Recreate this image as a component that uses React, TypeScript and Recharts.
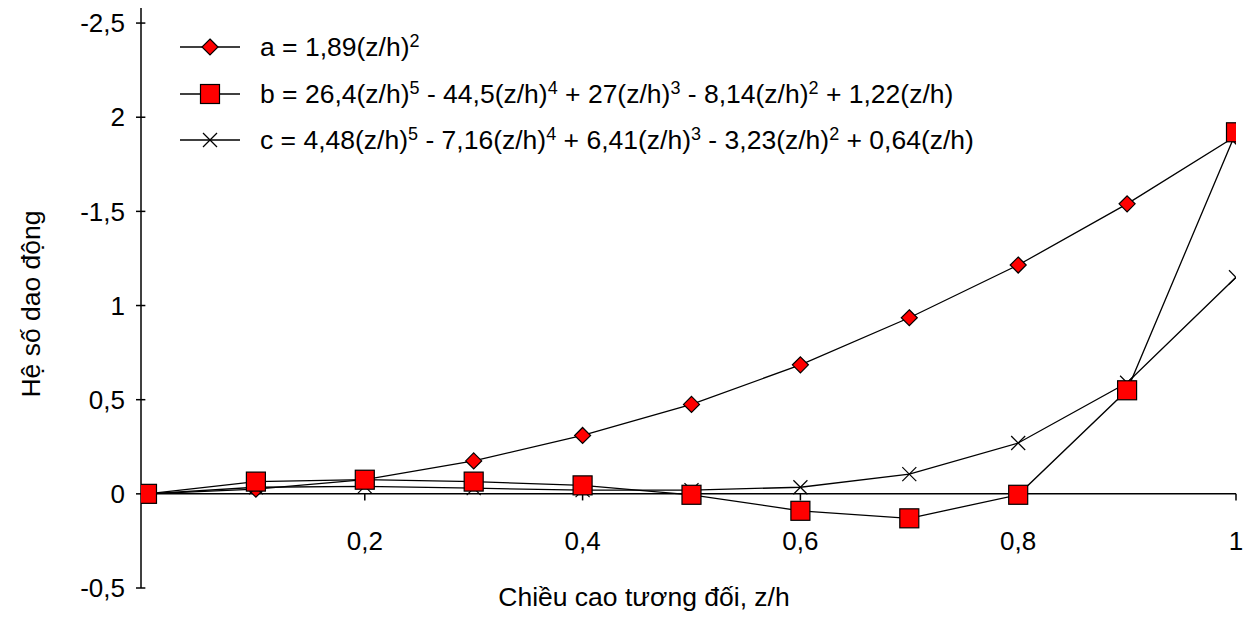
import React from 'react';
import { LineChart, Line, XAxis, YAxis, ReferenceLine } from 'recharts';

const zValues = [0, 0.1, 0.2, 0.3, 0.4, 0.5, 0.6, 0.7, 0.8, 0.9, 1];
const seriesA = [0, 0.025, 0.075, 0.175, 0.31, 0.475, 0.685, 0.935, 1.215, 1.54, 1.9];
const seriesB = [0, 0.065, 0.075, 0.065, 0.045, -0.005, -0.09, -0.13, -0.005, 0.55, 1.92];
const seriesC = [0, 0.035, 0.04, 0.03, 0.02, 0.02, 0.035, 0.105, 0.27, 0.59, 1.15];

const xTicks = [0.2, 0.4, 0.6, 0.8, 1];
const xTickLabels = ['0,2', '0,4', '0,6', '0,8', '1'];
const yTicks = [-0.5, 0, 0.5, 1, 1.5, 2, 2.5];
const yTickLabels = ['-0,5', '0', '0,5', '1', '-1,5', '2', '-2,5'];

const data = zValues.map((z, i) => ({ z, a: seriesA[i], b: seriesB[i], c: seriesC[i] }));

const FONT = "Arial, 'Liberation Sans', sans-serif";
const FS = 26;

const Diamond = (props: any) => {
  const { cx, cy } = props;
  if (cx == null || cy == null) return null;
  const s = 8;
  return (
    <polygon
      points={`${cx},${cy - s} ${cx + s},${cy} ${cx},${cy + s} ${cx - s},${cy}`}
      fill="#ff0000"
      stroke="#000"
      strokeWidth={1.2}
    />
  );
};

const Square = (props: any) => {
  const { cx, cy } = props;
  if (cx == null || cy == null) return null;
  const s = 9.5;
  return <rect x={cx - s} y={cy - s} width={2 * s} height={2 * s} fill="#ff0000" stroke="#000" strokeWidth={1.2} />;
};

const Cross = (props: any) => {
  const { cx, cy } = props;
  if (cx == null || cy == null) return null;
  const s = 7;
  return (
    <g stroke="#000" strokeWidth={1.2}>
      <line x1={cx - s} y1={cy - s} x2={cx + s} y2={cy + s} />
      <line x1={cx - s} y1={cy + s} x2={cx + s} y2={cy - s} />
    </g>
  );
};

const legendItems = [
  { key: 'a', marker: 'diamond', text: [['a = 1,89(z/h)', '2']] },
  {
    key: 'b',
    marker: 'square',
    text: [['b = 26,4(z/h)', '5'], [' - 44,5(z/h)', '4'], [' + 27(z/h)', '3'], [' - 8,14(z/h)', '2'], [' + 1,22(z/h)', '']],
  },
  {
    key: 'c',
    marker: 'cross',
    text: [['c = 4,48(z/h)', '5'], [' - 7,16(z/h)', '4'], [' + 6,41(z/h)', '3'], [' - 3,23(z/h)', '2'], [' + 0,64(z/h)', '']],
  },
];

const LegendBox = () => (
  <div
    style={{
      position: 'absolute',
      left: 180,
      top: 24,
      fontFamily: FONT,
      fontSize: 26.5,
      color: '#000',
      lineHeight: 1,
    }}
  >
    {legendItems.map((it) => (
      <div key={it.key} style={{ display: 'flex', alignItems: 'center', height: 46.5 }}>
        <svg width={60} height={24} style={{ marginRight: 20, flex: 'none' }}>
          <line x1={0} y1={12} x2={60} y2={12} stroke="#000" strokeWidth={1.3} />
          {it.marker === 'diamond' && <Diamond cx={30} cy={12} />}
          {it.marker === 'square' && <Square cx={30} cy={12} />}
          {it.marker === 'cross' && <Cross cx={30} cy={12} />}
        </svg>
        <span style={{ whiteSpace: 'nowrap' }}>
          {it.text.map(([t, s], i) => (
            <React.Fragment key={i}>
              {t}
              {s && <sup style={{ fontSize: 18, verticalAlign: 'top', position: 'relative', top: -2 }}>{s}</sup>}
            </React.Fragment>
          ))}
        </span>
      </div>
    ))}
  </div>
);

const XTick = (props: any) => {
  const { x, y, payload } = props;
  const idx = xTicks.indexOf(payload.value);
  return (
    <text x={x} y={y - 55} textAnchor="middle" fontFamily={FONT} fontSize={FS} fill="#000" dominantBaseline="central">
      {idx >= 0 ? xTickLabels[idx] : ''}
    </text>
  );
};

export default function App() {
  return (
    <div style={{ position: 'absolute', left: 0, top: 0, width: 1258, height: 617, background: '#fff' }}>
      <LineChart
        width={1258}
        height={617}
        data={data}
        margin={{ top: 8, right: 22, bottom: 0, left: 0 }}
        style={{ fontFamily: FONT }}
      >
        <XAxis
          dataKey="z"
          type="number"
          domain={[-0.0055, 1]}
          ticks={xTicks}
          allowDataOverflow
          axisLine={false}
          tickLine={false}
          tick={<XTick />}
          height={29}
          label={{
            content: () => (
              <text
                x={644}
                y={597}
                textAnchor="middle"
                dominantBaseline="central"
                fontFamily={FONT}
                fontSize={26.5}
                fill="#000"
              >
                Chiều cao tương đối, z/h
              </text>
            ),
          }}
        />
        <YAxis
          type="number"
          domain={[-0.5, 2.58]}
          ticks={yTicks}
          allowDataOverflow
          width={141}
          axisLine={{ stroke: '#000', strokeWidth: 1.5 }}
          tickLine={{ stroke: '#000', strokeWidth: 1.5 }}
          tickSize={5}
          tickMargin={11}
          tickFormatter={(v: number) => yTickLabels[yTicks.indexOf(v)] ?? ''}
          tick={{ fill: '#000', fontSize: FS, fontFamily: FONT }}
          label={{
            content: () => (
              <text
                x={31}
                y={304}
                transform="rotate(-90, 31, 304)"
                textAnchor="middle"
                dominantBaseline="central"
                fontFamily={FONT}
                fontSize={26.5}
                fill="#000"
              >
                Hệ số dao động
              </text>
            ),
          }}
        />
        {yTicks.map((t) => (
          <ReferenceLine
            key={'yt' + t}
            segment={[
              { x: -0.0055, y: t },
              { x: -0.0015, y: t },
            ]}
            stroke="#000"
            strokeWidth={1.5}
            ifOverflow="visible"
          />
        ))}
        <ReferenceLine y={0} stroke="#000" strokeWidth={1.5} />
        {xTicks.map((t) => (
          <ReferenceLine
            key={t}
            segment={[
              { x: t, y: 0 },
              { x: t, y: -0.035 },
            ]}
            stroke="#000"
            strokeWidth={1.5}
          />
        ))}
        <Line dataKey="a" stroke="#000" strokeWidth={1.3} dot={<Diamond />} activeDot={false} isAnimationActive={false} />
        <Line dataKey="c" stroke="#000" strokeWidth={1.3} dot={<Cross />} activeDot={false} isAnimationActive={false} />
        <Line dataKey="b" stroke="#000" strokeWidth={1.3} dot={<Square />} activeDot={false} isAnimationActive={false} />
      </LineChart>
      <LegendBox />
    </div>
  );
}
